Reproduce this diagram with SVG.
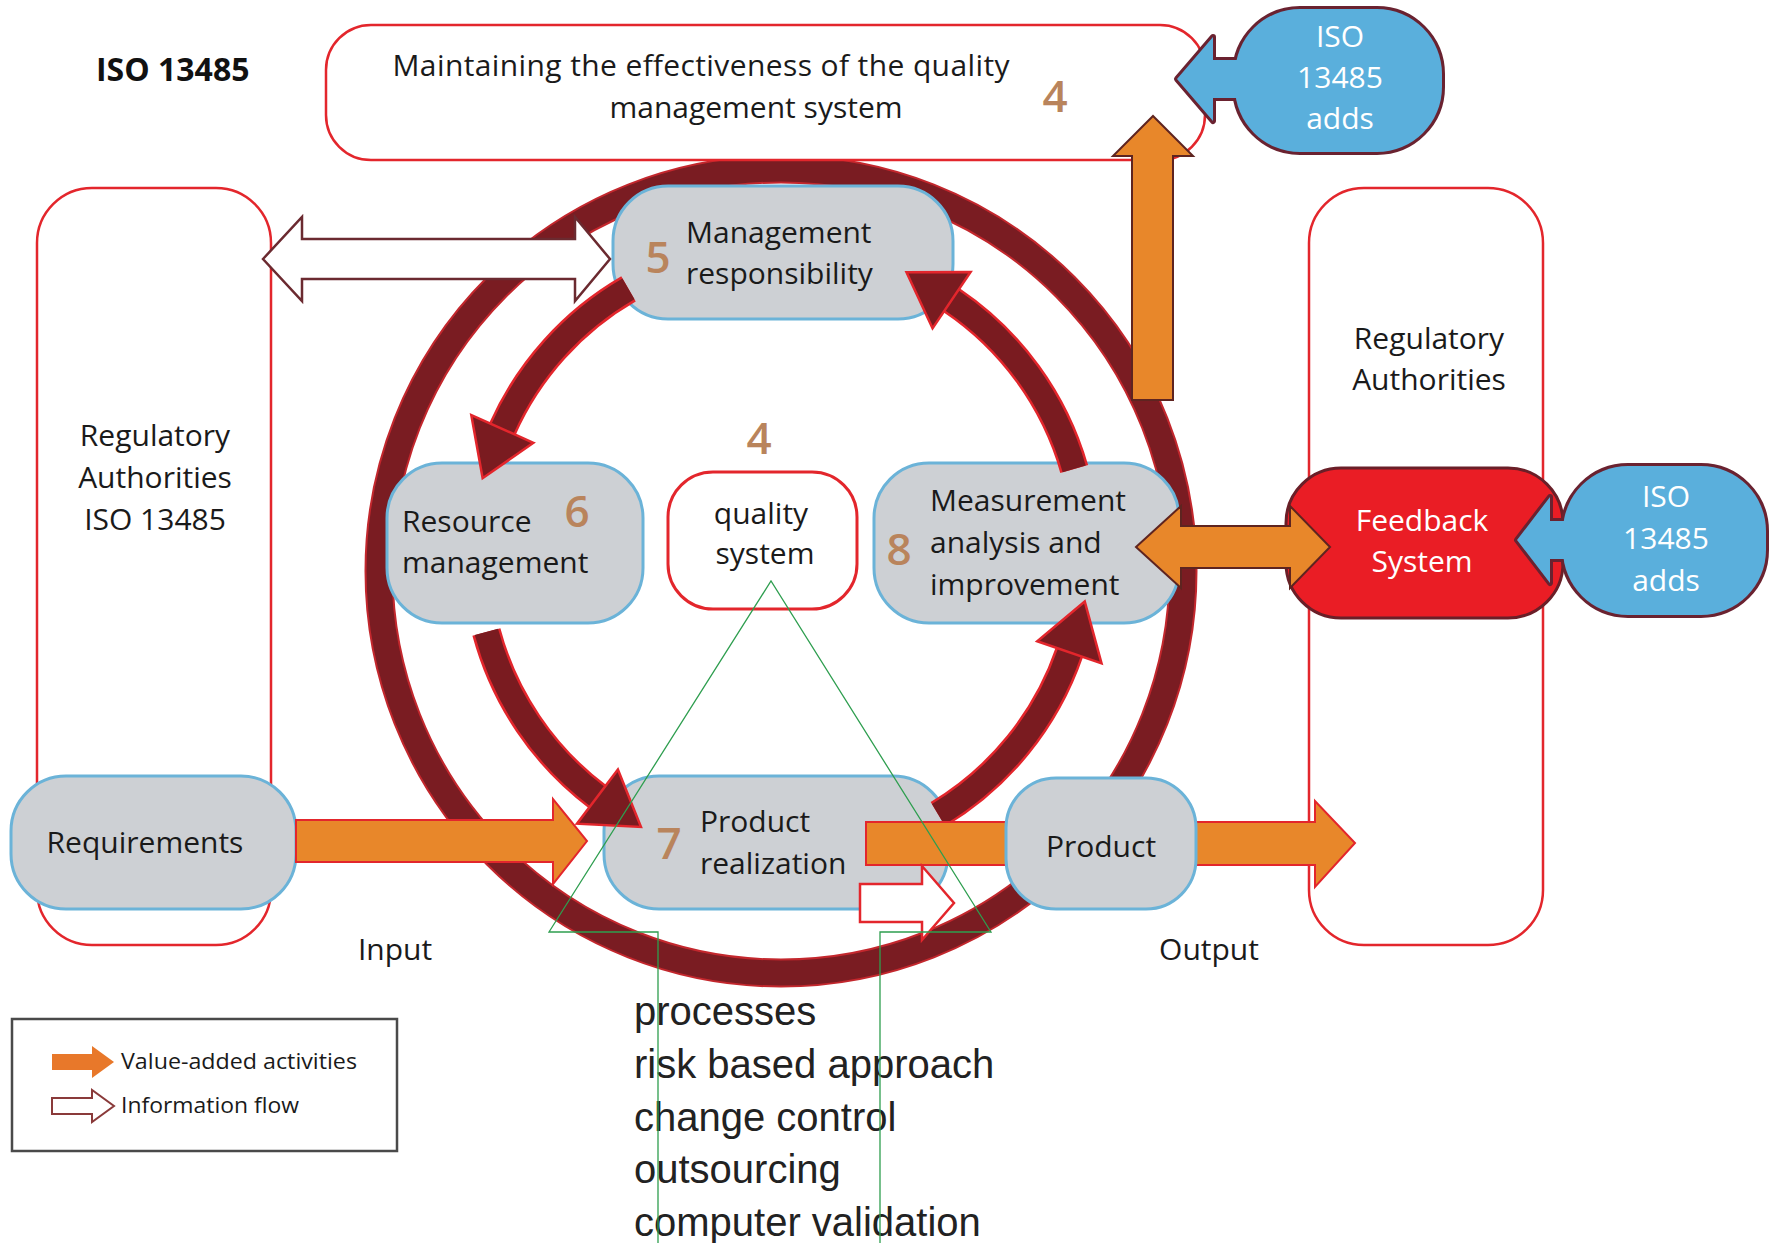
<svg xmlns="http://www.w3.org/2000/svg" width="1769" height="1243" viewBox="0 0 1769 1243">
  <style>
    .lbl { font-family: "Open Sans", "Liberation Sans", sans-serif; font-size: 30px; fill: #1a1a1a; }
    .num { font-family: "Open Sans", "Liberation Sans", sans-serif; font-size: 44px; font-weight: 600; fill: #b9845c; }
    .wht { fill: #ffffff; }
    .outline { fill: #ffffff; stroke: #e3262c; stroke-width: 2.5; }
    .step { fill: #cdd0d4; stroke: #6bb3d8; stroke-width: 3; }
    .blue { fill: #5aafdc; }
    .blue-edge { fill: #6a2230; stroke: #6a2230; stroke-width: 6; stroke-linejoin: round; }
    .value { fill: #e8872a; stroke: #e3262c; stroke-width: 2; stroke-linejoin: miter; }
    .value-dark { fill: #e8872a; stroke: #5e2420; stroke-width: 2; }
    .info { fill: #ffffff; stroke: #e3262c; stroke-width: 2.5; }
    .info-dark { fill: #ffffff; stroke: #6b2a30; stroke-width: 2.5; }
    .arc-edge { fill: none; stroke: #e3262c; stroke-width: 29; }
    .arc-core { fill: none; stroke: #7a1b20; stroke-width: 24; }
    .arc-head { fill: #7a1b20; stroke: #e3262c; stroke-width: 2.5; stroke-linejoin: miter; }
    .guide { fill: none; stroke: #2e9e4f; stroke-width: 1.3; }
    .list { font-family: "Liberation Sans", Arial, sans-serif; font-size: 40px; fill: #222222; }
    .legend { font-family: "Open Sans", "Liberation Sans", sans-serif; font-size: 21px; fill: #1a1a1a; }
  </style>

  <rect width="1769" height="1243" fill="#ffffff"/>

  <!-- outer process cycle -->
  <g id="cycle-ring">
    <circle cx="781" cy="571" r="402" fill="none" stroke="#c3272d" stroke-width="29"/>
    <circle cx="781" cy="571" r="402" fill="none" stroke="#7a1c22" stroke-width="25"/>
  </g>

  <text x="96" y="81" font-family="'Open Sans', 'Liberation Sans', sans-serif" font-size="32" font-weight="700" fill="#111111">ISO 13485</text>

  <g id="qms-effectiveness">
    <rect class="outline" x="326" y="25" width="879" height="135" rx="45"/>
    <text class="lbl" x="701" y="76" text-anchor="middle" textLength="617">Maintaining the effectiveness of the quality</text>
    <text class="lbl" x="756" y="118" text-anchor="middle">management system</text>
    <text class="num" x="1055" y="112" text-anchor="middle">4</text>
  </g>

  <g id="regulatory-left">
    <rect class="outline" x="37" y="188" width="234" height="757" rx="55"/>
    <text class="lbl" x="155" y="446" text-anchor="middle">Regulatory</text>
    <text class="lbl" x="155" y="488" text-anchor="middle">Authorities</text>
    <text class="lbl" x="155" y="530" text-anchor="middle">ISO 13485</text>
  </g>

  <g id="regulatory-right">
    <rect class="outline" x="1309" y="188" width="234" height="757" rx="55"/>
    <text class="lbl" x="1429" y="349" text-anchor="middle">Regulatory</text>
    <text class="lbl" x="1429" y="390" text-anchor="middle">Authorities</text>
  </g>

  <g id="requirements">
    <rect class="step" x="11" y="776" width="285" height="133" rx="55"/>
    <text class="lbl" x="145" y="853" text-anchor="middle">Requirements</text>
  </g>

  <g id="quality-system">
    <rect fill="#ffffff" stroke="#e3262c" stroke-width="3" x="668" y="472" width="189" height="137" rx="45"/>
    <text class="num" x="759" y="454" text-anchor="middle">4</text>
    <text class="lbl" x="761" y="524" text-anchor="middle" font-size="29">quality</text>
    <text class="lbl" x="765" y="564" text-anchor="middle" font-size="29">system</text>
  </g>

  <g id="management-responsibility">
    <rect class="step" x="613" y="186" width="340" height="133" rx="55"/>
    <text class="num" x="658" y="273" text-anchor="middle">5</text>
    <text class="lbl" x="686" y="243">Management</text>
    <text class="lbl" x="686" y="284">responsibility</text>
  </g>

  <g id="resource-management">
    <rect class="step" x="387" y="463" width="256" height="160" rx="55"/>
    <text class="num" x="577" y="527" text-anchor="middle">6</text>
    <text class="lbl" x="402" y="532">Resource</text>
    <text class="lbl" x="402" y="573">management</text>
  </g>

  <g id="measurement-analysis">
    <rect class="step" x="874" y="463" width="305" height="160" rx="55"/>
    <text class="num" x="899" y="565" text-anchor="middle">8</text>
    <text class="lbl" x="930" y="511">Measurement</text>
    <text class="lbl" x="930" y="553">analysis and</text>
    <text class="lbl" x="930" y="595">improvement</text>
  </g>

  <g id="product-realization">
    <rect class="step" x="604" y="776" width="344" height="133" rx="55"/>
    <text class="num" x="669" y="859" text-anchor="middle">7</text>
    <text class="lbl" x="700" y="832">Product</text>
    <text class="lbl" x="700" y="874">realization</text>
  </g>

  <g id="feedback-system">
    <rect fill="#ea1d25" stroke="#6a1f28" stroke-width="3" x="1286" y="468" width="277" height="150" rx="55"/>
    <text class="lbl wht" x="1422" y="531" text-anchor="middle">Feedback</text>
    <text class="lbl wht" x="1422" y="572" text-anchor="middle">System</text>
  </g>

  <g id="connectors">
    <!-- inner improvement cycle: 5 -> 6 -> 7 -> 8 -> 5 -->
    <path class="arc-edge" d="M 1074.2 468.9 A 305 305 0 0 0 951.6 300.2"/>
    <path class="arc-core" d="M 1074.2 468.9 A 305 305 0 0 0 951.6 300.2"/>
    <polygon class="arc-head" points="1052,553 1120,553 1084,500" transform="rotate(-56 781 553)"/>

    <path class="arc-edge" d="M 628.5 288.9 A 305 305 0 0 0 502.4 429"/>
    <path class="arc-core" d="M 628.5 288.9 A 305 305 0 0 0 502.4 429"/>
    <polygon class="arc-head" points="1052,553 1120,553 1084,500" transform="rotate(-156 781 553)"/>

    <path class="arc-edge" d="M 486.4 631.9 A 305 305 0 0 0 597.5 796.6"/>
    <path class="arc-core" d="M 486.4 631.9 A 305 305 0 0 0 597.5 796.6"/>
    <polygon class="arc-head" points="1052,553 1120,553 1084,500" transform="rotate(127 781 553)"/>

    <path class="arc-edge" d="M 938.1 814.4 A 305 305 0 0 0 1069.4 652.3"/>
    <path class="arc-core" d="M 938.1 814.4 A 305 305 0 0 0 1069.4 652.3"/>
    <polygon class="arc-head" points="1052,553 1120,553 1084,500" transform="rotate(19 781 553)"/>

    <!-- value-added flows -->
    <polygon class="value" points="296,820 553,820 553,799 587,841 553,884 553,862 296,862"/>
    <polygon class="value" points="866,822 1315,822 1315,801 1355,843 1315,887 1315,865 866,865"/>
    <polygon class="value-dark" points="1132,400 1173,400 1173,156 1193,156 1153,116 1113,156 1132,156"/>
    <polygon class="value-dark" points="1136,547 1181,506 1181,526 1290,526 1290,506 1330,547 1290,588 1290,568 1181,568 1181,588"/>

    <!-- information flows -->
    <polygon class="info-dark" points="263,259 302,217 302,239 575,239 575,217 610,259 575,301 575,279 302,279 302,301"/>
    <polygon class="info" points="860,884 922,884 922,866 954,903 922,940 922,922 860,922"/>
  </g>

  <g id="product">
    <rect class="step" x="1006" y="778" width="190" height="131" rx="50"/>
    <text class="lbl" x="1101" y="857" text-anchor="middle">Product</text>
  </g>

  <g id="iso-adds-top">
    <rect class="blue-edge" x="1235" y="9" width="207" height="143" rx="65"/>
    <polygon class="blue-edge" points="1240,60 1213,60 1213,37 1177,79 1213,121 1213,98 1240,98"/>
    <rect class="blue" x="1235" y="9" width="207" height="143" rx="65"/>
    <polygon class="blue" points="1240,60 1213,60 1213,37 1177,79 1213,121 1213,98 1240,98"/>
    <text class="lbl wht" x="1340" y="47" text-anchor="middle">ISO</text>
    <text class="lbl wht" x="1340" y="88" text-anchor="middle">13485</text>
    <text class="lbl wht" x="1340" y="129" text-anchor="middle">adds</text>
  </g>

  <g id="iso-adds-feedback">
    <rect class="blue-edge" x="1563" y="466" width="203" height="149" rx="65"/>
    <polygon class="blue-edge" points="1570,521 1550,521 1550,497 1517,540 1550,583 1550,559 1570,559"/>
    <rect class="blue" x="1563" y="466" width="203" height="149" rx="65"/>
    <polygon class="blue" points="1570,521 1550,521 1550,497 1517,540 1550,583 1550,559 1570,559"/>
    <text class="lbl wht" x="1666" y="507" text-anchor="middle">ISO</text>
    <text class="lbl wht" x="1666" y="549" text-anchor="middle">13485</text>
    <text class="lbl wht" x="1666" y="591" text-anchor="middle">adds</text>
  </g>

  <text class="lbl" x="395" y="960" text-anchor="middle">Input</text>
  <text class="lbl" x="1209" y="960" text-anchor="middle">Output</text>

  <g id="qms-topics">
    <text class="list" x="634" y="1025">processes</text>
    <text class="list" x="634" y="1078">risk based approach</text>
    <text class="list" x="634" y="1131">change control</text>
    <text class="list" x="634" y="1183">outsourcing</text>
    <text class="list" x="634" y="1236">computer validation</text>
  </g>

  <g id="topic-bracket">
    <polyline class="guide" points="658,1243 658,932 549,932 771,581 991,932 880,932 880,1243"/>
  </g>

  <g id="legend">
    <rect x="12" y="1019" width="385" height="132" fill="#ffffff" stroke="#4a4a4a" stroke-width="2.5"/>
    <polygon fill="#e8782a" points="52,1054 92,1054 92,1046 114,1062 92,1078 92,1070 52,1070"/>
    <polygon fill="#ffffff" stroke="#8a3a3a" stroke-width="2" points="52,1098 92,1098 92,1090 114,1106 92,1122 92,1114 52,1114"/>
    <text class="legend" x="121" y="1069" textLength="236" lengthAdjust="spacingAndGlyphs">Value-added activities</text>
    <text class="legend" x="121" y="1113" textLength="178" lengthAdjust="spacingAndGlyphs">Information flow</text>
  </g>
</svg>
